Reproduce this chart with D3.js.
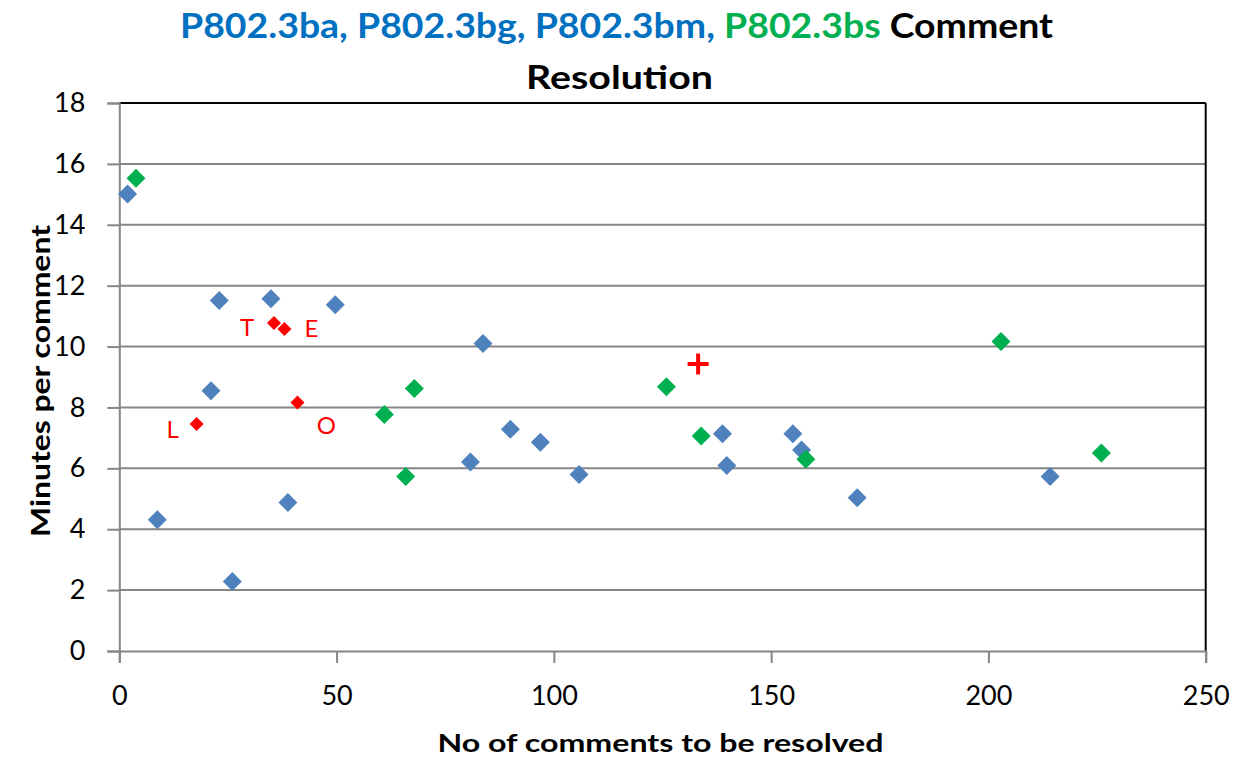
<!DOCTYPE html>
<html><head><meta charset="utf-8">
<script src="https://cdn.jsdelivr.net/npm/d3@7"></script>
<style>body{margin:0;background:#fff}svg{display:block}</style>
</head><body>
<svg id="c" width="1233" height="759"></svg>
<script>
// Data
const blueX = [1.9, 23.0, 34.9, 49.7, 21.1, 8.75, 26.0, 38.8, 83.7, 80.8, 90.0, 96.9, 105.8, 138.8, 139.8, 155.0, 157.0, 169.8, 214.2];
const blueY = [15.01, 11.51, 11.57, 11.37, 8.55, 4.31, 2.28, 4.88, 10.1, 6.21, 7.28, 6.86, 5.8, 7.14, 6.09, 7.14, 6.6, 5.03, 5.73];
const greenX = [3.85, 61.0, 67.9, 65.9, 125.9, 133.9, 158.0, 202.9, 226.0];
const greenY = [15.53, 7.77, 8.62, 5.73, 8.68, 7.06, 6.3, 10.17, 6.5];
const redX = [35.6, 38.0, 17.8, 41.0];
const redY = [10.77, 10.58, 7.46, 8.16];
const redLabels = ["T", "E", "L", "O"];
const crossX = [133.2];
const crossY = [9.43];
const xTicks = [0, 50, 100, 150, 200, 250];
const yTicks = [0, 2, 4, 6, 8, 10, 12, 14, 16, 18];

const svg = d3.select("#c");
const L = 119.3, R = 1205.7, T = 103, B = 651;
const x = d3.scaleLinear().domain([0, 250]).range([L, R]);
const y = d3.scaleLinear().domain([0, 18]).range([B, T]);
const font = "Lato, 'Open Sans', sans-serif";

// gridlines
svg.append("g").selectAll("line").data(yTicks.filter(d => d > 0 && d < 18)).join("line")
  .attr("x1", L).attr("x2", R).attr("y1", d => y(d)).attr("y2", d => y(d))
  .attr("stroke", "#868686").attr("stroke-width", 2);

// border top/right black
svg.append("line").attr("x1", L).attr("x2", R).attr("y1", T).attr("y2", T).attr("stroke", "#000").attr("stroke-width", 2);
svg.append("line").attr("x1", R).attr("x2", R).attr("y1", T).attr("y2", B).attr("stroke", "#000").attr("stroke-width", 2);

// axes
const yAxis = d3.axisLeft(y).tickValues(yTicks).tickSize(12).tickPadding(22).tickFormat(d3.format("d"));
const gy = svg.append("g").attr("transform", `translate(${L},0)`).call(yAxis);
const xAxis = d3.axisBottom(x).tickValues(xTicks).tickSize(12).tickPadding(23).tickFormat(d3.format("d"));
const gx = svg.append("g").attr("transform", `translate(0,${B})`).call(xAxis);
[gy, gx].forEach(g => {
  g.select(".domain").attr("stroke", "#868686").attr("stroke-width", 2);
  g.selectAll(".tick line").attr("stroke", "#868686").attr("stroke-width", 2);
  g.selectAll("text").attr("font-family", font).attr("font-size", 27).attr("fill", "#000");
});

// title
const title = svg.append("text").attr("x", 616.5).attr("y", 37.5).attr("text-anchor", "middle")
  .attr("font-family", font).attr("font-weight", "bold").attr("font-size", 34)
  .attr("textLength", 873).attr("lengthAdjust", "spacingAndGlyphs");
title.append("tspan").attr("fill", "#0070C0").text("P802.3ba, P802.3bg, P802.3bm, ");
title.append("tspan").attr("fill", "#00B050").text("P802.3bs");
title.append("tspan").attr("fill", "#000").text(" Comment");
svg.append("text").attr("x", 619.5).attr("y", 89).attr("text-anchor", "middle")
  .attr("font-family", font).attr("font-weight", "bold").attr("font-size", 33)
  .attr("textLength", 187).attr("lengthAdjust", "spacingAndGlyphs").text("Resolution");

// axis titles
svg.append("text").attr("x", 660.5).attr("y", 752).attr("text-anchor", "middle")
  .attr("font-family", font).attr("font-weight", "bold").attr("font-size", 25)
  .attr("textLength", 446).attr("lengthAdjust", "spacingAndGlyphs").text("No of comments to be resolved");
svg.append("text").attr("transform", "translate(50,381) rotate(-90)").attr("text-anchor", "middle")
  .attr("font-family", font).attr("font-weight", "bold").attr("font-size", 26)
  .attr("textLength", 312).attr("lengthAdjust", "spacingAndGlyphs").text("Minutes per comment");

const diamond = (s) => `M0,${-s}L${s},0L0,${s}L${-s},0Z`;

// blue
svg.append("g").selectAll("path").data(blueX.map((d, i) => [d, blueY[i]])).join("path")
  .attr("d", diamond(9.5)).attr("transform", d => `translate(${x(d[0])},${y(d[1])})`).attr("fill", "#4F81BD");
// green
svg.append("g").selectAll("path").data(greenX.map((d, i) => [d, greenY[i]])).join("path")
  .attr("d", diamond(9.5)).attr("transform", d => `translate(${x(d[0])},${y(d[1])})`).attr("fill", "#00B050");
// red
svg.append("g").selectAll("path").data(redX.map((d, i) => [d, redY[i]])).join("path")
  .attr("d", diamond(7)).attr("transform", d => `translate(${x(d[0])},${y(d[1])})`).attr("fill", "#FF0000");
// cross
svg.append("g").selectAll("path").data(crossX.map((d, i) => [d, crossY[i]])).join("path")
  .attr("d", "M-10.5,0H10.5M0,-10.5V10.5").attr("transform", d => `translate(${x(d[0])},${y(d[1])})`)
  .attr("stroke", "#FF0000").attr("stroke-width", 4).attr("fill", "none");

// red labels
const labelOff = {T: [-27, 5], E: [27, 0], L: [-24, 6], O: [29, 23]};
svg.append("g").selectAll("text").data(redLabels.map((l, i) => ({l, x: redX[i], y: redY[i]}))).join("text")
  .attr("x", d => x(d.x) + labelOff[d.l][0]).attr("y", d => y(d.y) + labelOff[d.l][1] + 8)
  .attr("text-anchor", "middle").attr("font-family", font).attr("font-size", 24).attr("fill", "#FF0000")
  .text(d => d.l);
</script>
</body></html>
